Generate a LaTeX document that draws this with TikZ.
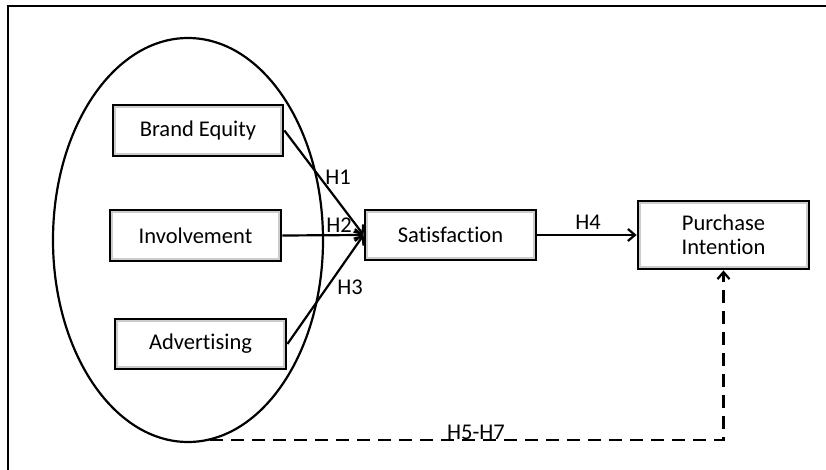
\documentclass[tikz,border=0pt]{standalone}
\usepackage{fontspec}
\setmainfont[Ligatures=NoCommon]{Carlito}
\usetikzlibrary{arrows.meta,shapes.geometric,calc}
\begin{document}
\begin{tikzpicture}[x=1pt,y=-1pt,
  varbox/.style={draw=black,line width=2.8pt,fill=white,inner sep=0pt,
    font=\fontsize{22.5}{26}\selectfont,align=center,
    path picture={\draw[black!20,line width=6pt] (path picture bounding box.south west) rectangle (path picture bounding box.north east);}},
  lbl/.style={font=\fontsize{22.5}{26}\selectfont,inner sep=0pt},
  conn/.style={line width=2.2pt,-{Straight Barb[length=7pt,width=12pt,line width=2.2pt]}},
  dconn/.style={conn,dash pattern=on 13pt off 8pt}
]
\useasboundingbox (0,0) rectangle (826,470);
\fill[white] (0,0) rectangle (826,470);
\draw[line width=2.8pt] (8,470) -- (8,6) -- (826,6);
\node[draw,ellipse,line width=2.2pt,minimum width=270pt,minimum height=404pt,inner sep=0pt] (grp) at (188,240) {};
\node[varbox,minimum width=170pt,minimum height=51pt] (be) at (198,130.5) {Brand Equity};
\node[varbox,minimum width=171pt,minimum height=51pt] (inv) at (195.5,235.5) {Involvement};
\node[varbox,minimum width=171pt,minimum height=50pt] (adv) at (200.5,344) {Advertising};
\node[varbox,minimum width=171pt,minimum height=50pt] (sat) at (450.5,235) {Satisfaction};
\node[varbox,minimum width=171pt,minimum height=68pt] (pi) at (723.5,235) {Purchase\\[-2pt]Intention};
\draw[conn] (be.east) -- (sat.west);
\draw[conn] (inv.east) -- (sat.west);
\draw[conn] (adv.east) -- (sat.west);
\draw[conn] (sat.east) -- (pi.west);
\coordinate (d0) at (210,440);
\draw[dconn] (d0) -| (pi.south);
\node[lbl] (h1) at (338,177) {H1};
\node[lbl] (h2) at (339,225) {H2};
\node[lbl] (h3) at (350,287) {H3};
\node[lbl] (h4) at (588,222) {H4};
\node[lbl] (h5) at (476,432) {H5-H7};
\end{tikzpicture}
\end{document}
